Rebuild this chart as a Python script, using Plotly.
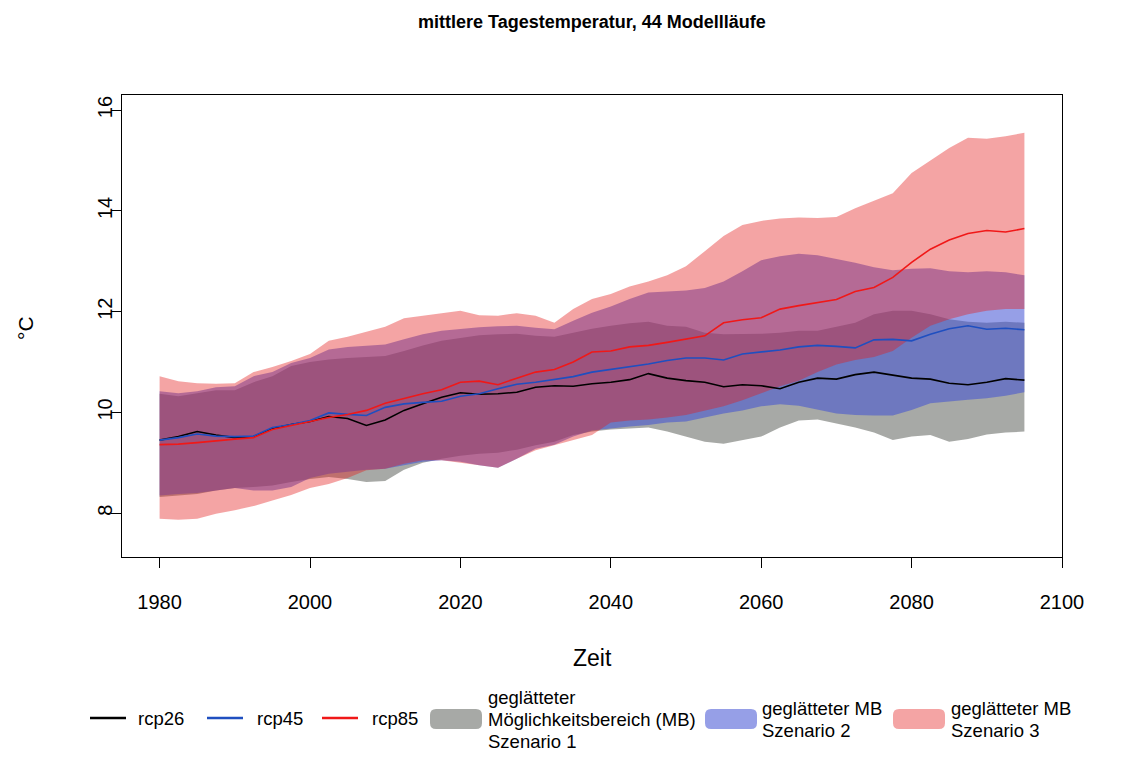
import plotly.graph_objects as go

years = [1980 + 2.5 * i for i in range(47)]

rcp26 = [9.45, 9.52, 9.62, 9.55, 9.50, 9.52, 9.68, 9.76, 9.82, 9.92, 9.88, 9.74, 9.85, 10.04, 10.17, 10.30,
         10.39, 10.36, 10.37, 10.40, 10.50, 10.53, 10.52, 10.57, 10.60, 10.65, 10.77, 10.68, 10.63, 10.60,
         10.51, 10.55, 10.53, 10.47, 10.60, 10.68, 10.66, 10.75, 10.80, 10.74, 10.68, 10.66, 10.58, 10.55,
         10.60, 10.67, 10.64]
rcp45 = [9.45, 9.50, 9.57, 9.53, 9.52, 9.53, 9.70, 9.76, 9.84, 9.99, 9.96, 9.94, 10.10, 10.17, 10.20, 10.22,
         10.32, 10.37, 10.47, 10.56, 10.60, 10.65, 10.71, 10.80, 10.85, 10.90, 10.96, 11.03, 11.08, 11.08,
         11.04, 11.16, 11.20, 11.24, 11.30, 11.33, 11.31, 11.28, 11.44, 11.45, 11.42, 11.55, 11.66, 11.72,
         11.65, 11.67, 11.64]
rcp85 = [9.36, 9.37, 9.40, 9.44, 9.47, 9.50, 9.66, 9.74, 9.82, 9.90, 9.96, 10.04, 10.18, 10.28, 10.37, 10.45,
         10.60, 10.62, 10.55, 10.68, 10.80, 10.85, 11.00, 11.20, 11.22, 11.30, 11.33, 11.39, 11.45, 11.52,
         11.78, 11.84, 11.88, 12.05, 12.12, 12.18, 12.24, 12.40, 12.48, 12.68, 12.98, 13.24, 13.42, 13.55,
         13.61, 13.58, 13.65]

mb1_upper = [10.37, 10.32, 10.38, 10.44, 10.44, 10.60, 10.72, 10.92, 11.00, 11.05, 11.08, 11.10, 11.12, 11.22,
             11.33, 11.42, 11.48, 11.53, 11.55, 11.56, 11.52, 11.50, 11.58, 11.66, 11.72, 11.77, 11.80, 11.72,
             11.70, 11.58, 11.55, 11.55, 11.56, 11.58, 11.62, 11.62, 11.70, 11.78, 11.95, 12.02, 12.02, 11.95,
             11.85, 11.80, 11.78, 11.80, 11.78]
mb1_lower = [8.32, 8.35, 8.38, 8.45, 8.50, 8.52, 8.55, 8.62, 8.68, 8.72, 8.68, 8.62, 8.64, 8.86, 9.00, 9.08,
             9.14, 9.18, 9.20, 9.26, 9.35, 9.42, 9.55, 9.62, 9.66, 9.68, 9.70, 9.62, 9.52, 9.42, 9.38, 9.45,
             9.52, 9.70, 9.84, 9.86, 9.78, 9.70, 9.60, 9.45, 9.52, 9.55, 9.42, 9.47, 9.56, 9.60, 9.62]
mb2_upper = [10.42, 10.38, 10.42, 10.50, 10.52, 10.72, 10.80, 10.98, 11.08, 11.25, 11.30, 11.33, 11.35, 11.45,
             11.55, 11.62, 11.66, 11.69, 11.71, 11.72, 11.68, 11.65, 11.82, 11.98, 12.10, 12.25, 12.38, 12.40,
             12.42, 12.47, 12.60, 12.80, 13.02, 13.10, 13.15, 13.12, 13.05, 12.97, 12.88, 12.82, 12.85, 12.86,
             12.80, 12.78, 12.80, 12.78, 12.72]
mb2_lower = [8.35, 8.38, 8.40, 8.45, 8.50, 8.45, 8.45, 8.52, 8.70, 8.78, 8.82, 8.86, 8.88, 8.95, 9.02, 9.05,
             9.02, 8.95, 8.90, 9.08, 9.28, 9.36, 9.52, 9.64, 9.68, 9.72, 9.75, 9.80, 9.82, 9.90, 9.98, 10.04,
             10.12, 10.16, 10.13, 10.05, 9.98, 9.95, 9.94, 9.94, 10.05, 10.18, 10.22, 10.25, 10.28, 10.33, 10.40]
mb3_upper = [10.72, 10.62, 10.58, 10.57, 10.58, 10.80, 10.90, 11.02, 11.16, 11.42, 11.50, 11.60, 11.70, 11.87,
             11.92, 11.98, 12.02, 11.93, 11.92, 11.97, 11.92, 11.78, 12.05, 12.25, 12.35, 12.50, 12.60, 12.72,
             12.90, 13.20, 13.50, 13.72, 13.80, 13.85, 13.87, 13.86, 13.88, 14.05, 14.20, 14.35, 14.75, 15.00,
             15.25, 15.45, 15.43, 15.48, 15.55]
mb3_lower = [7.89, 7.87, 7.89, 7.99, 8.06, 8.14, 8.25, 8.36, 8.50, 8.58, 8.70, 8.85, 8.88, 8.98, 9.05, 9.05,
             9.00, 8.95, 8.90, 9.08, 9.25, 9.35, 9.45, 9.55, 9.80, 9.84, 9.86, 9.90, 9.95, 10.03, 10.12, 10.24,
             10.38, 10.52, 10.63, 10.80, 10.95, 11.04, 11.10, 11.22, 11.48, 11.72, 11.85, 11.95, 12.02, 12.05,
             12.05]

x_ticks = [1980, 2000, 2020, 2040, 2060, 2080, 2100]
y_ticks = [8, 10, 12, 14, 16]

line_names = ["rcp26", "rcp45", "rcp85"]
band_names = [["geglätteter", "Möglichkeitsbereich (MB)", "Szenario 1"],
              ["geglätteter MB", "Szenario 2"],
              ["geglätteter MB", "Szenario 3"]]

FONT = "Liberation Sans, Arial, Helvetica, sans-serif"
LINE_COLORS = ["#000000", "#1f4fc0", "#f01818"]
BAND_COLORS = ["rgba(80,84,78,0.5)", "rgba(64,81,212,0.55)", "rgba(227,27,27,0.4)"]

# plot-area geometry in page pixels (the page has an 8px body margin)
PL, PR, PT, PB = 122, 1062, 95, 557
PW, PH = PR - PL, PB - PT


def px(x):
    return (x - PL) / PW


def py(y):
    return (PB - y) / PH


fig = go.Figure()

for up, lo, col, names in zip([mb1_upper, mb2_upper, mb3_upper], [mb1_lower, mb2_lower, mb3_lower],
                              BAND_COLORS, band_names):
    fig.add_trace(go.Scatter(
        x=years + years[::-1], y=up + lo[::-1], fill="toself", fillcolor=col,
        line=dict(width=0), mode="lines", name=" ".join(names), hoverinfo="skip", showlegend=False))

for name, vals, col in zip(line_names, [rcp26, rcp45, rcp85], LINE_COLORS):
    fig.add_trace(go.Scatter(x=years, y=vals, mode="lines", name=name,
                             line=dict(color=col, width=1.6), showlegend=False))

# ---- legend (drawn below the plot, like the R legend) ----
shapes = []
annotations = []
LEG_Y = 718
LEG_FONT = 18.5
line_swatches = [(90, 126, 136), (207, 243, 255), (322, 358, 370)]
for (x0, x1, xt), name, col in zip(line_swatches, line_names, LINE_COLORS):
    shapes.append(dict(type="line", xref="paper", yref="paper", x0=px(x0), x1=px(x1),
                       y0=py(LEG_Y), y1=py(LEG_Y), line=dict(color=col, width=2.6)))
    annotations.append(dict(text=name, x=px(xt), y=py(LEG_Y), xref="paper", yref="paper",
                            xanchor="left", yanchor="middle", showarrow=False,
                            font=dict(size=LEG_FONT)))


def rounded_rect(x0, x1, y0, y1, r=6):
    X0, X1, Y0, Y1 = px(x0), px(x1), py(y0), py(y1)
    rx, ry = r / PW, r / PH
    return (f"M {X0 + rx},{Y0} L {X1 - rx},{Y0} Q {X1},{Y0} {X1},{Y0 - ry} "
            f"L {X1},{Y1 + ry} Q {X1},{Y1} {X1 - rx},{Y1} L {X0 + rx},{Y1} "
            f"Q {X0},{Y1} {X0},{Y1 + ry} L {X0},{Y0 - ry} Q {X0},{Y0} {X0 + rx},{Y0} Z")


band_swatches = [(430, 482, 486, [697, 719, 741]),
                 (705, 757, 760, [708, 730]),
                 (893, 945, 949, [708, 730])]
for (x0, x1, xt, ys), names, col in zip(band_swatches, band_names, BAND_COLORS):
    shapes.append(dict(type="path", xref="paper", yref="paper",
                       path=rounded_rect(x0, x1, 709, 729), fillcolor=col, line=dict(width=0)))
    for t, yy in zip(names, ys):
        annotations.append(dict(text=t, x=px(xt), y=py(yy), xref="paper", yref="paper",
                                xanchor="left", yanchor="middle", showarrow=False,
                                font=dict(size=LEG_FONT)))

annotations += [
    dict(text="<b>mittlere Tagestemperatur, 44 Modellläufe</b>", x=0.5, xref="paper",
         y=py(22), yref="paper", yanchor="middle", showarrow=False, font=dict(size=18)),
    dict(text="Zeit", x=0.5, xref="paper", y=py(658), yref="paper", showarrow=False,
         font=dict(size=23), yanchor="middle"),
    dict(text="°C", x=px(25), xref="paper", y=py(328), yref="paper", showarrow=False,
         font=dict(size=21), textangle=-90, xanchor="center", yanchor="middle"),
]

fig.update_layout(
    width=1117, height=750,
    margin=dict(l=PL - 8, r=1125 - PR, t=PT - 8, b=758 - PB),
    paper_bgcolor="white", plot_bgcolor="white",
    font=dict(family=FONT, color="black"),
    showlegend=False,
    shapes=shapes,
    annotations=annotations,
)

fig.update_xaxes(range=[1975, 2100], tickvals=x_ticks, ticktext=[str(v) for v in x_ticks],
                 showline=True, mirror=True, linecolor="black", linewidth=1.3,
                 ticks="outside", ticklen=10, tickwidth=1.3, tickcolor="black",
                 showgrid=False, zeroline=False, tickfont=dict(size=20), ticklabelstandoff=17)
fig.update_yaxes(range=[7.13, 16.3], tickvals=y_ticks, ticktext=[str(v) for v in y_ticks],
                 showline=True, mirror=True, linecolor="black", linewidth=1.3,
                 ticks="outside", ticklen=10, tickwidth=1.3, tickcolor="black",
                 showgrid=False, zeroline=False, tickfont=dict(size=20), tickangle=-90,
                 ticklabelstandoff=-9)

fig.write_html("out.html")
